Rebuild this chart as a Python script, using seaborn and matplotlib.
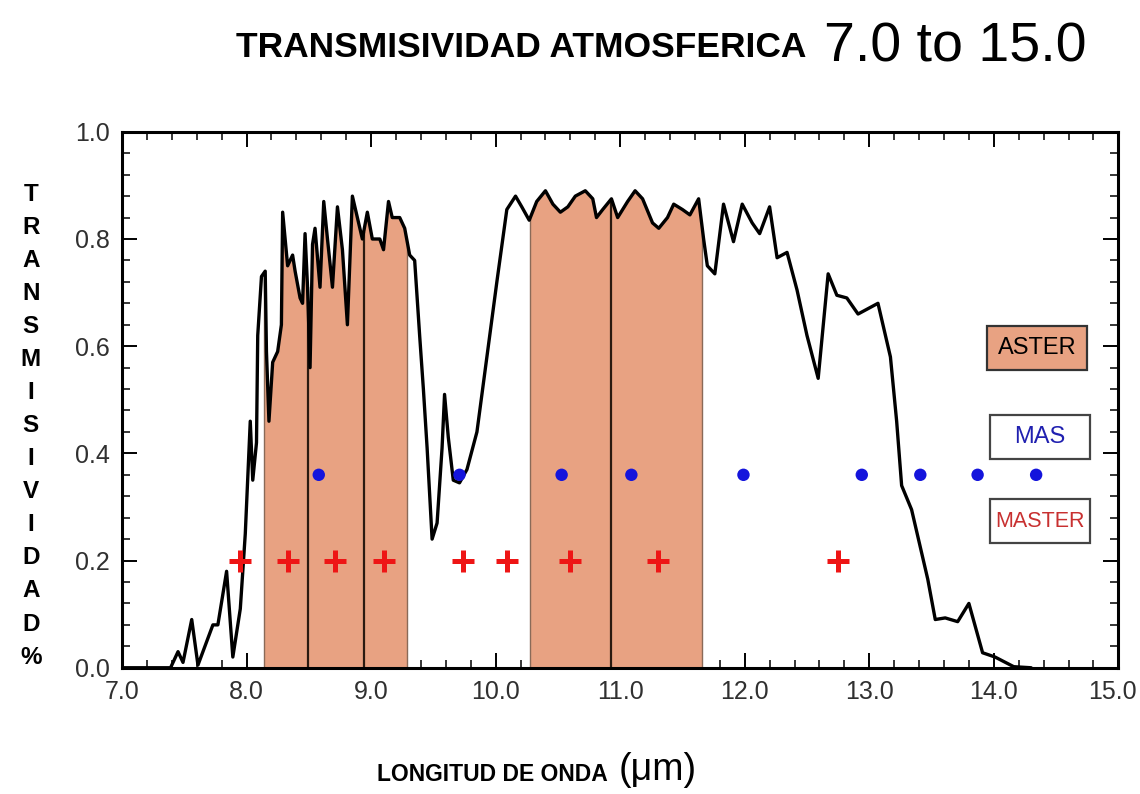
import numpy as np
import pandas as pd
import matplotlib
matplotlib.use('Agg')
from matplotlib import pyplot as plt
from matplotlib.patches import Rectangle
from matplotlib.transforms import ScaledTranslation
from matplotlib.ticker import MultipleLocator, FormatStrFormatter
import seaborn as sns

# transmission curve (wavelength in um, transmissivity 0-1)
wavelength = [7.00, 7.30, 7.39, 7.45, 7.49, 7.56, 7.61, 7.65, 7.73, 7.77, 7.84, 7.89, 7.95, 7.99,
              8.02, 8.03, 8.05, 8.08, 8.09, 8.12, 8.15, 8.16, 8.18, 8.21, 8.25, 8.28, 8.29, 8.33,
              8.37, 8.39, 8.43, 8.45, 8.47, 8.49, 8.51, 8.53, 8.55, 8.59, 8.62, 8.65, 8.69, 8.73,
              8.77, 8.81, 8.85, 8.89, 8.93, 8.97, 9.01, 9.07, 9.10, 9.14, 9.17, 9.23, 9.27, 9.31,
              9.35, 9.39, 9.42, 9.45, 9.49, 9.53, 9.57, 9.59, 9.62, 9.66, 9.71, 9.77, 9.85, 9.93,
              10.01, 10.09, 10.16, 10.21, 10.27, 10.33, 10.40, 10.46, 10.52, 10.58, 10.64, 10.72,
              10.78, 10.81, 10.86, 10.93, 10.98, 11.06, 11.12, 11.18, 11.26, 11.31, 11.38, 11.43,
              11.50, 11.56, 11.63, 11.67, 11.70, 11.76, 11.83, 11.91, 11.98, 12.06, 12.12, 12.20,
              12.26, 12.34, 12.42, 12.50, 12.59, 12.67, 12.74, 12.82, 12.91, 13.07, 13.17, 13.22,
              13.26, 13.34, 13.41, 13.47, 13.53, 13.61, 13.71, 13.80, 13.91, 14.01, 14.16, 14.30]
transmission = [0.0, 0.0, 0.0, 0.03, 0.01, 0.09, 0.005, 0.03, 0.08, 0.08, 0.18, 0.02, 0.11, 0.25,
                0.41, 0.46, 0.35, 0.42, 0.62, 0.73, 0.74, 0.59, 0.46, 0.57, 0.59, 0.64, 0.85, 0.75,
                0.77, 0.74, 0.69, 0.68, 0.81, 0.71, 0.56, 0.79, 0.82, 0.71, 0.87, 0.80, 0.71, 0.86,
                0.78, 0.64, 0.88, 0.84, 0.80, 0.85, 0.80, 0.80, 0.78, 0.87, 0.84, 0.84, 0.82, 0.77,
                0.76, 0.62, 0.52, 0.41, 0.24, 0.27, 0.41, 0.51, 0.43, 0.35, 0.345, 0.37, 0.44, 0.58,
                0.72, 0.855, 0.88, 0.86, 0.835, 0.87, 0.89, 0.865, 0.85, 0.86, 0.88, 0.89,
                0.875, 0.84, 0.855, 0.875, 0.84, 0.87, 0.89, 0.875, 0.83, 0.82, 0.84, 0.865,
                0.855, 0.845, 0.875, 0.80, 0.75, 0.735, 0.865, 0.795, 0.865, 0.83, 0.81, 0.86,
                0.765, 0.775, 0.705, 0.62, 0.54, 0.735, 0.695, 0.69, 0.66, 0.68, 0.58, 0.46,
                0.34, 0.295, 0.225, 0.165, 0.09, 0.093, 0.086, 0.12, 0.028, 0.02, 0.002, 0.0]

# ASTER TIR bands (shaded)
aster_lo = [8.14, 8.49, 8.94, 10.28, 10.93]
aster_hi = [8.49, 8.94, 9.29, 10.93, 11.66]

# MAS band centres (blue dots) and MASTER band centres (red crosses)
mas_bands = [8.58, 9.71, 10.53, 11.09, 11.99, 12.94, 13.41, 13.87, 14.34]
mas_level = 0.36
master_bands = [7.95, 8.33, 8.71, 9.10, 9.74, 10.09, 10.60, 11.30, 12.75]
master_level = 0.20

x_ticks = [7, 8, 9, 10, 11, 12, 13, 14, 15]

aster_col = '#E8A282'

sns.set_theme(style='ticks')
plt.rcParams['font.family'] = ['Liberation Sans', 'DejaVu Sans']
plt.rcParams['text.color'] = 'black'

fig = plt.figure(figsize=(11.4, 7.94), dpi=100)
ax = fig.add_axes([0.107, 0.159, 0.874, 0.675])

curve = pd.DataFrame({'wl': wavelength, 't': transmission})

# shaded ASTER bands under the curve
for lo, hi in zip(aster_lo, aster_hi):
    poly = ax.fill_between(curve.wl, 0, curve.t, color=aster_col, lw=0, zorder=1)
    poly.set_clip_path(Rectangle((lo, 0), hi - lo, 1.0, transform=ax.transData))

edges = sorted(set(aster_lo + aster_hi))
for e in edges:
    inner = e in aster_lo and e in aster_hi
    ax.vlines(e, 0, np.interp(e, curve.wl, curve.t), color='#2a1a10' if inner else '#8a6a58',
              lw=1.6 if inner else 1.0, zorder=2)

sns.lineplot(data=curve, x='wl', y='t', color='black', lw=2.4, ax=ax, estimator=None, zorder=3)

sns.scatterplot(x=mas_bands, y=[mas_level] * len(mas_bands), color='#1414dc', s=80,
                edgecolor='none', ax=ax, zorder=4)
sns.scatterplot(x=master_bands, y=[master_level] * len(master_bands), color='#ee1515',
                marker='+', s=260, linewidth=3.6, ax=ax, zorder=4)

# legend boxes
boxes = [('ASTER', 0.868, 0.556, aster_col, 'black', '#333333', 17),
         ('MAS', 0.871, 0.390, 'white', '#2020b0', '#444444', 17),
         ('MASTER', 0.871, 0.233, 'white', '#c83030', '#444444', 15.5)]
for label, bx, by, fc, tc, ec, fs in boxes:
    ax.add_patch(Rectangle((bx, by), 0.101, 0.081, transform=ax.transAxes,
                           facecolor=fc, edgecolor=ec, lw=1.6, zorder=5))
    ax.text(bx + 0.0505, by + 0.0405, label, transform=ax.transAxes, ha='center', va='center',
            color=tc, fontsize=fs, zorder=6)

ax.set_xlim(7, 15)
ax.set_ylim(0, 1)
ax.set_xticks(x_ticks)
ax.set_xticklabels([f'{v:.1f}' for v in x_ticks])
ax.xaxis.set_minor_locator(MultipleLocator(0.2))
ax.yaxis.set_major_locator(MultipleLocator(0.2))
ax.yaxis.set_minor_locator(MultipleLocator(0.04))
ax.yaxis.set_major_formatter(FormatStrFormatter('%.1f'))
ax.tick_params(which='both', direction='in', top=True, right=True, labelcolor='#303030',
               color='black', labelsize=18)
ax.tick_params(which='major', length=11, width=1.4, pad=9)
ax.tick_params(which='minor', length=6, width=1.1)
for s in ax.spines.values():
    s.set_linewidth(2.2)
    s.set_color('black')
ax.set_xlabel('')
ax.set_ylabel('')

# nudge the last x label so it stays inside the figure
last = ax.get_xticklabels()[-1]
last.set_transform(last.get_transform() + ScaledTranslation(-0.06, 0, fig.dpi_scale_trans))

fig.text(0.027, 0.464, '\n'.join('TRANSMISIVIDAD%'), ha='center', va='center',
         fontsize=17.5, fontweight='bold', linespacing=1.56)
fig.text(0.432, 0.024, 'LONGITUD DE ONDA', ha='center', va='center', fontsize=16.5, fontweight='bold')
fig.text(0.577, 0.03, '(μm)', ha='center', va='center', fontsize=27)
fig.text(0.457, 0.94, 'TRANSMISIVIDAD ATMOSFERICA', ha='center', va='center',
         fontsize=25.5, fontweight='bold')
fig.text(0.838, 0.94, '7.0 to 15.0', ha='center', va='center', fontsize=40)

fig.savefig('out.png', dpi=100, facecolor='white')
